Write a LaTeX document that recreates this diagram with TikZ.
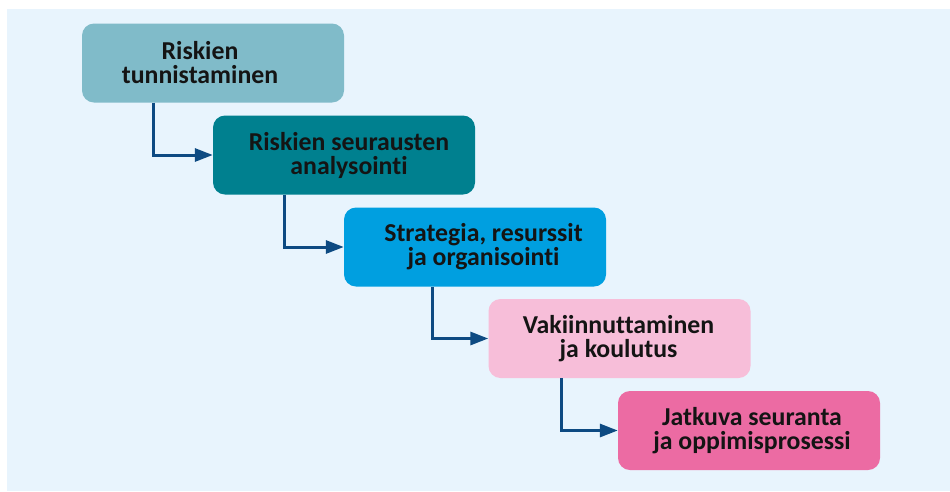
\documentclass[tikz,border=0pt]{standalone}
\usepackage{fontspec}
\setmainfont[Ligatures={NoCommon}]{Carlito}
\usetikzlibrary{arrows.meta}
\definecolor{bgblue}{HTML}{E8F4FD}
\definecolor{cA}{HTML}{80BBC9}
\definecolor{cB}{HTML}{00808F}
\definecolor{cC}{HTML}{009FE0}
\definecolor{cD}{HTML}{F7BED9}
\definecolor{cE}{HTML}{EC6BA3}
\definecolor{linkblue}{HTML}{0D4A82}
\definecolor{ink}{HTML}{141414}
\begin{document}
\begin{tikzpicture}[x=1pt,y=-1pt,
  stagebox/.style={draw=none, rounded corners=12pt, minimum width=262pt,
    minimum height=79pt, inner sep=0pt},
  stagetext/.style={align=center, text=ink, inner sep=0pt,
    font=\fontsize{25.8}{24}\selectfont\bfseries},
  link/.style={draw=linkblue, line width=3pt,
    -{Triangle[length=18pt,width=13pt]}}]
  % canvas
  \useasboundingbox (0,0) rectangle (950,491);
  \fill[white] (0,0) rectangle (950,491);
  \fill[bgblue] (7,9) rectangle (950,491);

  % stage boxes
  \node[stagebox, fill=cA] (b1) at (213,63) {};
  \node[stagebox, fill=cB] (b2) at (344,155) {};
  \node[stagebox, fill=cC] (b3) at (475,247) {};
  \node[stagebox, fill=cD] (b4) at (619.5,338.5) {};
  \node[stagebox, fill=cE] (b5) at (749,430.5) {};

  % stage labels
  \node[stagetext] (t1) at ([xshift=-13pt]b1.center) {Riskien\\tunnistaminen};
  \node[stagetext] (t2) at ([xshift=5pt]b2.center) {Riskien seurausten\\analysointi};
  \node[stagetext] (t3) at ([xshift=8.5pt]b3.center) {Strategia, resurssit\\ja organisointi};
  \node[stagetext] (t4) at ([xshift=-1pt]b4.center) {Vakiinnuttaminen\\ja koulutus};
  \node[stagetext] (t5) at ([xshift=3pt]b5.center) {Jatkuva seuranta\\ja oppimisprosessi};

  % step connectors
  \draw[link] ([xshift=72pt]b1.south west) |- (b2.west);
  \draw[link] ([xshift=72pt]b2.south west) |- (b3.west);
  \draw[link] ([xshift=89pt]b3.south west) |- (b4.west);
  \draw[link] ([xshift=73pt]b4.south west) |- (b5.west);
\end{tikzpicture}
\end{document}
